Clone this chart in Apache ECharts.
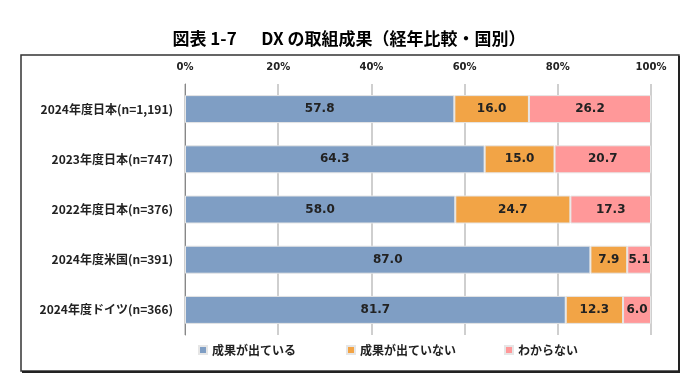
<!DOCTYPE html>
<html><head><meta charset="utf-8">
<script src="https://cdn.jsdelivr.net/npm/echarts@6/dist/echarts.min.js"></script>
<style>html,body{margin:0;padding:0;background:#fff}#c{width:698px;height:374px}</style>
</head><body><div id="c"></div>
<script>
const categories = ['2024年度日本(n=1,191)','2023年度日本(n=747)','2022年度日本(n=376)','2024年度米国(n=391)','2024年度ドイツ(n=366)'];
const seriesNames = ['成果が出ている','成果が出ていない','わからない'];
const yes = [57.8,64.3,58.0,87.0,81.7];
const no = [16.0,15.0,24.7,7.9,12.3];
const unknown = [26.2,20.7,17.3,5.1,6.0];
const xTicks = [0,20,40,60,80,100];
const colors = ['#7F9EC4','#F2A446','#FF9899'];
const font = '"Noto Sans CJK JP","Noto Sans",sans-serif';

const chart = echarts.init(document.getElementById('c'));
const mk = (name, data, i) => ({
  name, type:'bar', stack:'s', data, barWidth:28,
  itemStyle:{color:colors[i], borderColor:'#e6e6e6', borderWidth:1},
  label:{show:true, position:'inside', formatter:p=>p.value.toFixed(1), color:'#222', fontWeight:'bold', fontSize:12, fontFamily:'Verdana,"DejaVu Sans",sans-serif'},
  emphasis:{disabled:true}
});
const legendLefts = [193, 341, 499];
chart.setOption({
  animation:false,
  title:{text:'図表 1-7　  DX の取組成果（経年比較・国別）', left:'center', top:25,
    textStyle:{fontSize:17, fontWeight:'bold', color:'#000', fontFamily:font}},
  graphic:[
    {type:'rect', shape:{x:21, y:55, width:658, height:316}, style:{fill:'none', stroke:'#333', lineWidth:1.5}, z:-1},
    {type:'line', shape:{x1:679, y1:56, x2:679, y2:372}, style:{stroke:'#222', lineWidth:2}},
    {type:'line', shape:{x1:22, y1:372, x2:680, y2:372}, style:{stroke:'#222', lineWidth:2}}
  ],
  legend: seriesNames.map((n,i)=>({bottom:13, left:legendLefts[i], itemWidth:8, itemHeight:8, icon:'rect',
    textStyle:{fontSize:12, fontWeight:'bold', color:'#222', fontFamily:font}, data:[n]})),
  grid:{left:185, right:47, top:84, bottom:39},
  xAxis:{type:'value', position:'top', min:0, max:100, interval:20,
    axisLabel:{formatter:v=>v+'%', fontSize:10, color:'#222', fontWeight:'bold', margin:12, fontFamily:'Verdana,"DejaVu Sans",sans-serif'},
    splitLine:{show:true, lineStyle:{color:'#cfcfcf', width:2}},
    axisLine:{show:false}, axisTick:{show:false}},
  yAxis:{type:'category', inverse:true, data:categories,
    axisLine:{show:true, lineStyle:{color:'#888', width:1}}, axisTick:{show:false},
    axisLabel:{fontSize:12, fontWeight:'bold', color:'#222', margin:12, fontFamily:font}},
  series:[mk(seriesNames[0],yes,0), mk(seriesNames[1],no,1), mk(seriesNames[2],unknown,2)]
});
</script></body></html>
